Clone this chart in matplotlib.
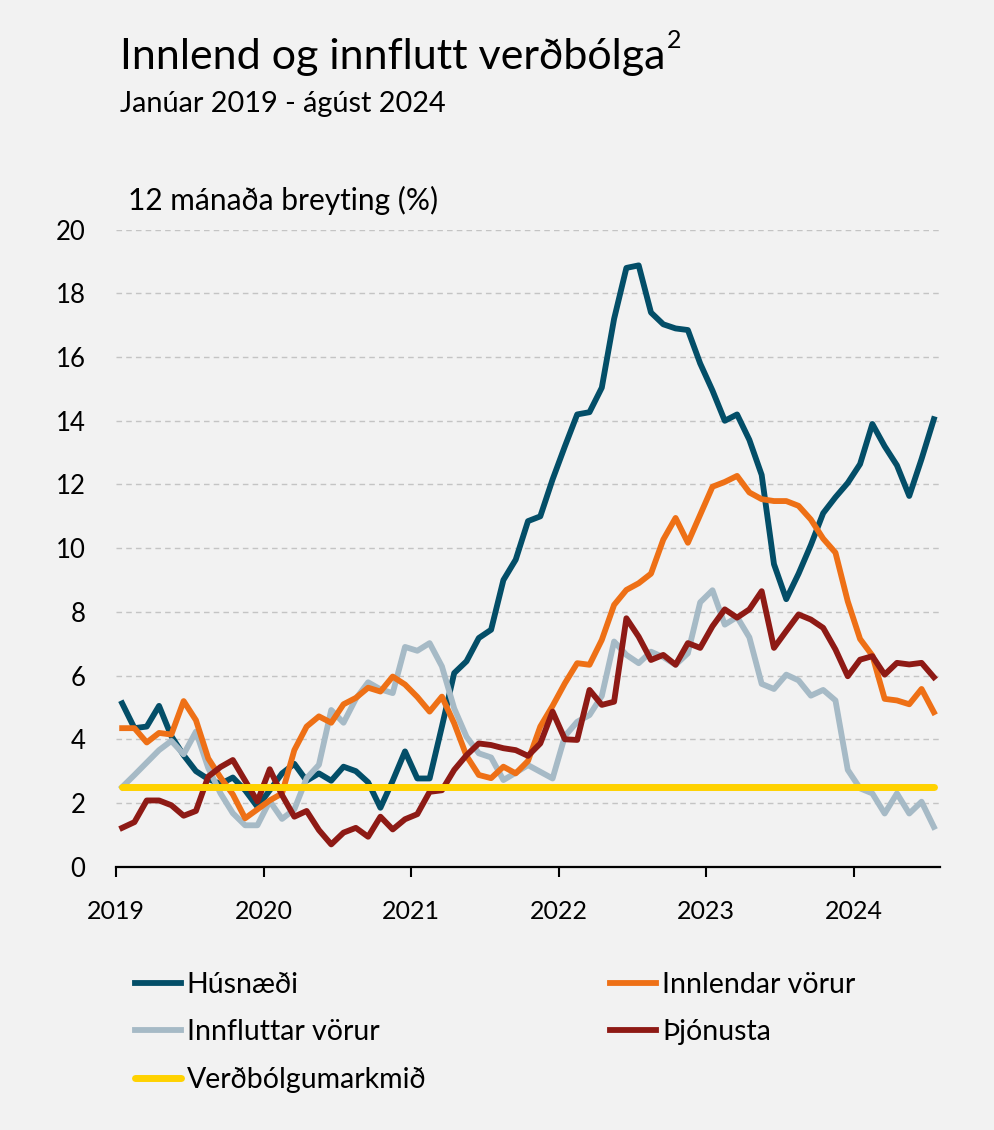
import matplotlib

matplotlib.use("Agg")
import matplotlib.pyplot as plt
import numpy as np

# monthly 12-month change (%), Jan 2019 .. Jul 2024
years = ["2019", "2020", "2021", "2022", "2023", "2024"]

husnaedi = [5.13, 4.35, 4.4, 5.05, 4.1, 3.5, 3.0, 2.75, 2.6, 2.8, 2.4, 1.88,
            2.4, 2.93, 3.23, 2.7, 2.93, 2.7, 3.14, 3.0, 2.65, 1.85, 2.7, 3.62,
            2.77, 2.77, 4.4, 6.08, 6.45, 7.18, 7.44, 9.0, 9.64, 10.85, 11.0, 12.16,
            13.2, 14.2, 14.27, 15.04, 17.2, 18.8, 18.88, 17.4, 17.03, 16.9, 16.85, 15.8,
            14.95, 14.0, 14.2, 13.4, 12.3, 9.5, 8.4, 9.2, 10.1, 11.1, 11.6, 12.05,
            12.64, 13.9, 13.2, 12.6, 11.64, 12.8, 14.05]

innlendar = [4.35, 4.35, 3.9, 4.2, 4.15, 5.2, 4.6, 3.4, 2.8, 2.27, 1.52, 1.8,
             2.08, 2.3, 3.66, 4.4, 4.72, 4.52, 5.1, 5.3, 5.62, 5.5, 5.97, 5.72,
             5.33, 4.87, 5.34, 4.5, 3.48, 2.88, 2.78, 3.14, 2.93, 3.32, 4.4, 5.05,
             5.76, 6.39, 6.34, 7.12, 8.22, 8.69, 8.9, 9.2, 10.27, 10.95, 10.17, 11.05,
             11.93, 12.08, 12.27, 11.75, 11.54, 11.48, 11.48, 11.33, 10.9, 10.3, 9.86, 8.33,
             7.15, 6.63, 5.27, 5.22, 5.1, 5.58, 4.85]

innfluttar = [2.5, 2.88, 3.27, 3.66, 3.95, 3.53, 4.24, 3.1, 2.3, 1.68, 1.3, 1.3,
              2.06, 1.5, 1.8, 2.78, 3.2, 4.92, 4.52, 5.27, 5.79, 5.57, 5.45, 6.9,
              6.78, 7.02, 6.29, 4.97, 4.08, 3.56, 3.43, 2.72, 2.95, 3.19, 2.98, 2.77,
              4.1, 4.55, 4.76, 5.36, 7.07, 6.65, 6.39, 6.75, 6.58, 6.34, 6.7, 8.3,
              8.68, 7.6, 7.84, 7.2, 5.74, 5.58, 6.03, 5.85, 5.37, 5.55, 5.22, 3.04,
              2.46, 2.3, 1.67, 2.3, 1.67, 2.04, 1.25]

thjonusta = [1.22, 1.4, 2.08, 2.08, 1.93, 1.6, 1.75, 2.83, 3.13, 3.35, 2.7, 2.05,
             3.06, 2.25, 1.57, 1.75, 1.15, 0.7, 1.07, 1.22, 0.94, 1.57, 1.17, 1.49,
             1.65, 2.35, 2.4, 3.04, 3.5, 3.87, 3.82, 3.72, 3.66, 3.48, 3.87, 4.87,
             4.0, 3.98, 5.55, 5.08, 5.18, 7.8, 7.22, 6.49, 6.65, 6.34, 7.02, 6.87,
             7.55, 8.08, 7.82, 8.08, 8.65, 6.87, 7.4, 7.92, 7.76, 7.5, 6.82, 5.98,
             6.5, 6.61, 6.03, 6.4, 6.35, 6.4, 5.95]

markmid = 2.5

BG = "#f2f2f2"
plt.rcParams["font.family"] = ["Lato", "DejaVu Sans"]

fig = plt.figure(figsize=(9.94, 11.30), dpi=100, facecolor=BG)
ax = fig.add_axes([116 / 994, 1 - 866.7 / 1130, 824 / 994, 637 / 1130])
ax.set_facecolor(BG)

x = np.arange(len(husnaedi))
lw = 4.2
ax.plot(x, husnaedi, color="#034e68", lw=lw, label="Húsnæði", zorder=3)
ax.plot(x, innfluttar, color="#a6bac6", lw=lw, label="Innfluttar vörur", zorder=3)
ax.plot(x, innlendar, color="#ee7016", lw=lw, label="Innlendar vörur", zorder=3)
ax.plot(x, thjonusta, color="#8e1a15", lw=lw, label="Þjónusta", zorder=3)
ax.plot(x, [markmid] * len(x), color="#ffd200", lw=5.0, label="Verðbólgumarkmið",
        zorder=4, solid_capstyle="round")

ax.set_xlim(-0.5, len(x) - 0.5)
ax.set_ylim(0, 20)
ax.set_yticks(range(0, 21, 2))
ax.grid(axis="y", color="#c4c4c4", lw=1.0, ls=(0, (4, 3)))
ax.set_axisbelow(True)

ax.set_xticks([-0.5 + 12 * k for k in range(len(years))])
ax.set_xticklabels(years)
ax.tick_params(axis="x", direction="out", length=7, width=1.5, pad=17,
               labelsize=18, color="black")
ax.tick_params(axis="y", length=0, pad=22, labelsize=18.5)
for s in ("left", "right", "top"):
    ax.spines[s].set_visible(False)
ax.spines["bottom"].set_linewidth(1.6)

# titles
title = fig.text(120 / 994, 1 - 57 / 1130, "Innlend og innflutt verðbólga",
                 fontsize=31, va="center", ha="left")
fig.canvas.draw()
bb = title.get_window_extent()
fig.text((bb.x1 + 2) / 994, 1 - 40 / 1130, "2", fontsize=18, va="center", ha="left")
fig.text(120 / 994, 1 - 104 / 1130, "Janúar 2019 - ágúst 2024", fontsize=20.8,
         va="center", ha="left")
fig.text(128 / 994, 1 - 200 / 1130, "12 mánaða breyting (%)", fontsize=21.5,
         va="center", ha="left")

h, l = ax.get_legend_handles_labels()
order = [0, 1, 4, 2, 3]
leg = fig.legend([h[i] for i in order], [l[i] for i in order],
                 loc="upper left", bbox_to_anchor=(135 / 994, 1 - 972 / 1130),
                 ncol=2, frameon=False, fontsize=20.5, handlelength=1.6,
                 handletextpad=0.22, labelspacing=0.75, columnspacing=6.45,
                 borderaxespad=0, borderpad=0)

fig.savefig("out.png", dpi=100, facecolor=BG)
